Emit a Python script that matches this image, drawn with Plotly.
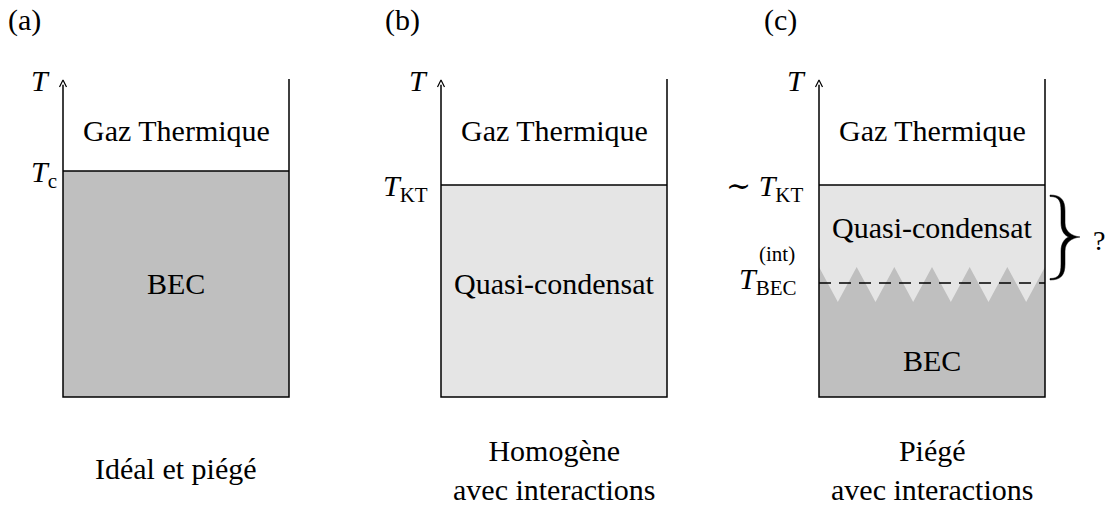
import plotly.graph_objects as go

# ---------------- data ----------------
panel_tags = ["(a)", "(b)", "(c)"]
captions = ["Idéal et piégé", "Homogène<br>avec interactions", "Piégé<br>avec interactions"]
upper_phase = ["Gaz Thermique", "Gaz Thermique", "Gaz Thermique"]
lower_phase = ["BEC", "Quasi-condensat", "Quasi-condensat"]
lower_fill = ["#bfbfbf", "#e5e5e5", "#e5e5e5"]
transition_T = [0.713, 0.669, 0.669]          # normalised temperature of upper transition
transition_labels = ["<i>T</i><sub>c</sub>", "<i>T</i><sub>KT</sub>", "∼ <i>T</i><sub>KT</sub>"]
T_bec_int = 0.360                            # interacting BEC transition in panel (c)
zigzag_peak_T = 0.410
zigzag_trough_T = 0.300
n_teeth = 6
bec_fill = "#bfbfbf"

# ---------------- geometry ----------------
W, H = 1116, 507
PY0, PY1 = 397, 80            # pixel rows of T=0 and T=1
X0 = [63, 441, 819]
BOXW = 226
FONT = "'Liberation Serif', 'DejaVu Serif', serif"
FS = 30


def ty(py):
    return (PY0 - py) / (PY0 - PY1)


fig = go.Figure()


def label(text, px, py, size=FS, xanchor="center"):
    fig.add_annotation(x=px, y=ty(py), text=text, showarrow=False, xanchor=xanchor,
                       yanchor="middle", font=dict(family=FONT, size=size, color="black"))


for i in range(3):
    x0, x1 = X0[i], X0[i] + BOXW
    Tt = transition_T[i]
    # lower phase fill
    fig.add_trace(go.Scatter(x=[x0, x1, x1, x0, x0], y=[0, 0, Tt, Tt, 0], fill="toself",
                             fillcolor=lower_fill[i], line=dict(width=0), mode="lines",
                             hoverinfo="skip", showlegend=False))
    if i == 2:
        step = BOXW / n_teeth
        zx, zy = [x0, x0], [0, zigzag_peak_T]
        for k in range(n_teeth):
            zx += [x0 + (k + 0.5) * step, x0 + (k + 1) * step]
            zy += [zigzag_trough_T, zigzag_peak_T]
        zx += [x1, x0]
        zy += [0, 0]
        fig.add_trace(go.Scatter(x=zx, y=zy, fill="toself", fillcolor=bec_fill,
                                 line=dict(width=0), mode="lines", hoverinfo="skip",
                                 showlegend=False))
        fig.add_trace(go.Scatter(x=[x0, x1], y=[T_bec_int, T_bec_int], mode="lines",
                                 line=dict(color="black", width=1.5, dash="12px,8px"),
                                 hoverinfo="skip", showlegend=False))
    # transition line
    fig.add_trace(go.Scatter(x=[x0, x1], y=[Tt, Tt], mode="lines",
                             line=dict(color="black", width=1.5), hoverinfo="skip",
                             showlegend=False))
    # box
    fig.add_trace(go.Scatter(x=[x0, x0, x1, x1], y=[0.985, 0, 0, 1.003], mode="lines",
                             line=dict(color="black", width=1.5), hoverinfo="skip",
                             showlegend=False))
    # arrow head
    fig.add_trace(go.Scatter(x=[x0 - 3.5, x0, x0 + 3.5], y=[ty(87), 1.0, ty(87)], mode="lines",
                             line=dict(color="black", width=1.2), hoverinfo="skip",
                             showlegend=False))

    label(panel_tags[i], 24 + 378 * i, 20)
    label("<i>T</i>", 40 + 378 * i, 80)
    label(upper_phase[i], x0 + BOXW / 2, 130)
    label(captions[i], x0 + BOXW / 2, 470 if i else 468)

label(transition_labels[0], 59, 174, xanchor="right")
label(transition_labels[1], 430, 188, xanchor="right")
label(transition_labels[2], 805, 188, xanchor="right")
label("<i>T</i><sub>BEC</sub>", 799, 281, xanchor="right")
label("(int)", 797, 254, size=21, xanchor="right")

label(lower_phase[0], X0[0] + BOXW / 2, 283)
label(lower_phase[1], X0[1] + BOXW / 2, 283)
label(lower_phase[2], X0[2] + BOXW / 2, 227)
label("BEC", X0[2] + BOXW / 2, 360)
label("?", 1099, 240, size=28)

# brace (pixel outline converted to data coordinates)
bx0, bxm, bxt = 1050, 1063, 1080
by0, by1, byc = 195, 280, 237
pts = [
    ("M", [(bx0, by0)]),
    ("C", [(bxm - 2, by0), (bxm + 2, by0 + 5), (bxm + 2, by0 + 16)]),
    ("L", [(bxm + 2, byc - 14)]),
    ("C", [(bxm + 2, byc - 5), (bxt - 8, byc - 1), (bxt, byc)]),
    ("C", [(bxt - 8, byc + 1), (bxm + 2, byc + 5), (bxm + 2, byc + 14)]),
    ("L", [(bxm + 2, by1 - 16)]),
    ("C", [(bxm + 2, by1 - 5), (bxm - 2, by1), (bx0, by1)]),
    ("L", [(bx0, by1 - 1.5)]),
    ("C", [(bxm - 4, by1 - 1.5), (bxm - 2, by1 - 6), (bxm - 2, by1 - 16)]),
    ("L", [(bxm - 2, byc + 14)]),
    ("C", [(bxm - 2, byc + 6), (bxm + 2, byc + 1), (bxm + 6, byc)]),
    ("C", [(bxm + 2, byc - 1), (bxm - 2, byc - 6), (bxm - 2, byc - 14)]),
    ("L", [(bxm - 2, by0 + 16)]),
    ("C", [(bxm - 2, by0 + 6), (bxm - 4, by0 + 1.5), (bx0, by0 + 1.5)]),
]
path = ""
for cmd, ps in pts:
    path += cmd + " " + " ".join(f"{px},{ty(py):.5f}" for px, py in ps) + " "
path += "Z"
fig.add_shape(type="path", path=path, xref="x", yref="y", fillcolor="black",
              line=dict(color="black", width=0.5))

fig.update_layout(
    width=W, height=H, margin=dict(l=0, r=0, t=0, b=0),
    plot_bgcolor="white", paper_bgcolor="white", showlegend=False,
    xaxis=dict(range=[0, W], visible=False, fixedrange=True),
    yaxis=dict(range=[ty(H), ty(0)], visible=False, fixedrange=True),
)
fig.write_html("out.html", config={"displayModeBar": False},
               post_script="document.body.style.margin='0';document.body.style.overflow='hidden';")
